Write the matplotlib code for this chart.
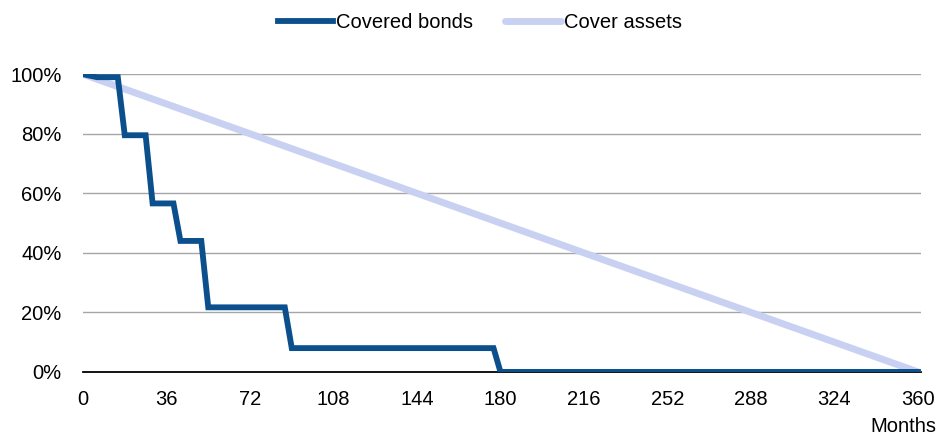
import matplotlib.pyplot as plt
from matplotlib.ticker import FuncFormatter

plt.rcParams["font.family"] = ["Liberation Sans", "DejaVu Sans"]

# covered bonds amortisation profile (months, % outstanding), quarterly steps
bond_months = [0, 6, 15, 18, 27, 30, 39, 42, 51, 54, 87, 90, 177, 180, 360]
bond_pct = [100, 99, 99, 79.5, 79.5, 56.6, 56.6, 44, 44, 21.7, 21.7, 8, 8, 0, 0]

# cover assets, straight-line amortisation
asset_months = [0, 360]
asset_pct = [100, 0]

x_ticks = list(range(0, 361, 36))
y_ticks = [0, 20, 40, 60, 80, 100]

fig = plt.figure(figsize=(9.37, 4.34), dpi=100)
ax = fig.add_axes([0.0886, 0.143, 0.8943, 0.686])

ax.plot(bond_months, bond_pct, color="#0b4f8c", lw=4.2, solid_joinstyle="miter",
        label="Covered bonds", zorder=3)
ax.plot(asset_months, asset_pct, color="#c9d1f3", lw=5, solid_capstyle="round",
        label="Cover assets", zorder=2)

ax.set_xlim(0, 361.3)
ax.set_ylim(0, 100)
ax.set_xticks(x_ticks)
ax.set_yticks(y_ticks)
ax.yaxis.set_major_formatter(FuncFormatter(lambda v, p: f"{v:.0f}%"))
ax.tick_params(length=0, labelsize=14.5)
ax.tick_params(axis="x", pad=13)
ax.tick_params(axis="y", pad=15.5)
ax.grid(axis="y", color="#a6a6a6", lw=1)
ax.set_axisbelow(True)
for s in ["top", "right", "left"]:
    ax.spines[s].set_visible(False)
ax.spines["bottom"].set_color("black")
ax.spines["bottom"].set_linewidth(1.3)
ax.spines["bottom"].set_zorder(1)

fig.text(0.999, 0.018, "Months", ha="right", va="center", fontsize=14.5)

fig.legend(loc="center", bbox_to_anchor=(0.512, 0.949), ncol=2, frameon=False,
           fontsize=14.5, handlelength=2.75, handletextpad=0.15, columnspacing=1.6,
           borderpad=0)

plt.savefig("out.png", dpi=100)
plt.close()
